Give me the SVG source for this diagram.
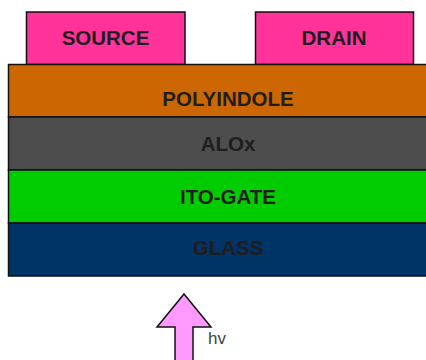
<svg xmlns="http://www.w3.org/2000/svg" width="426" height="360" viewBox="0 0 426 360">
<style>
.box{stroke:#111;stroke-width:1.5}
.lbl{font-family:"Liberation Sans",Arial,sans-serif;font-size:20.5px;font-weight:bold;fill:#1e1e1e;text-anchor:middle}
.hv{font-family:"Liberation Sans",Arial,sans-serif;font-size:17px;fill:#444}
</style>
<rect width="426" height="360" fill="#fff"/>
<g id="source"><rect class="box" x="26.5" y="12" width="158.5" height="52.5" fill="#ff3399"/><text class="lbl" x="105.5" y="44.5">SOURCE</text></g>
<g id="drain"><rect class="box" x="255.5" y="12" width="158" height="52.5" fill="#ff3399"/><text class="lbl" x="334" y="44.5">DRAIN</text></g>
<g id="polyindole"><rect class="box" x="8.5" y="64.5" width="420" height="52.5" fill="#cc6600"/><text class="lbl" x="228" y="106">POLYINDOLE</text></g>
<g id="alox"><rect class="box" x="8.5" y="117" width="420" height="53" fill="#4d4d4d"/><text class="lbl" x="228" y="150.5">ALOx</text></g>
<g id="ito"><rect class="box" x="8.5" y="170" width="420" height="53" fill="#00cc00"/><text class="lbl" x="228" y="203.5">ITO-GATE</text></g>
<g id="glass"><rect class="box" x="8.5" y="223" width="420" height="53" fill="#003366"/><text class="lbl" x="228" y="255">GLASS</text></g>
<g id="light"><polygon points="184,294 211,327 193,327 193,362 175,362 175,327 157,327" fill="#ff99ff" stroke="#111" stroke-width="1.5" stroke-linejoin="miter"/><text class="hv" x="208" y="344">hv</text></g>
<g id="connectors"></g>
</svg>
